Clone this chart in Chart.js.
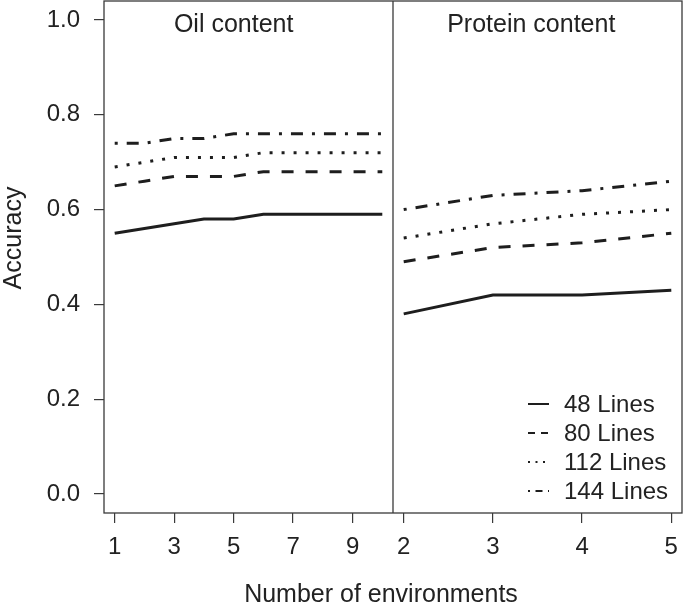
<!DOCTYPE html>
<html>
<head>
<meta charset="utf-8">
<script src="https://cdn.jsdelivr.net/npm/chart.js@4/dist/chart.umd.min.js"></script>
<style>
  html, body { margin: 0; padding: 0; background: #ffffff; }
  #wrap { width: 684px; height: 605px; position: relative; }
</style>
</head>
<body>
<div id="wrap"><canvas id="c" width="684" height="605"></canvas></div>
<script>
// ---- data ----
const oilEnvironments = [1, 2, 3, 4, 5, 6, 7, 8, 9, 10];
const proteinEnvironments = [2, 3, 4, 5];
const seriesLabels = ['48 Lines', '80 Lines', '112 Lines', '144 Lines'];

const oil48  = [0.55, 0.56, 0.57, 0.58, 0.58, 0.59, 0.59, 0.59, 0.59, 0.59];
const oil80  = [0.65, 0.66, 0.67, 0.67, 0.67, 0.68, 0.68, 0.68, 0.68, 0.68];
const oil112 = [0.69, 0.70, 0.71, 0.71, 0.71, 0.72, 0.72, 0.72, 0.72, 0.72];
const oil144 = [0.74, 0.74, 0.75, 0.75, 0.76, 0.76, 0.76, 0.76, 0.76, 0.76];

const protein48  = [0.38, 0.42, 0.42, 0.43];
const protein80  = [0.49, 0.52, 0.53, 0.55];
const protein112 = [0.54, 0.57, 0.59, 0.60];
const protein144 = [0.60, 0.63, 0.64, 0.66];

const oilTicks = [1, 3, 5, 7, 9];
const proteinTicks = [2, 3, 4, 5];
const accuracyTicks = [0.0, 0.2, 0.4, 0.6, 0.8, 1.0];

const panelTitles = ['Oil content', 'Protein content'];
const xAxisTitle = 'Number of environments';
const yAxisTitle = 'Accuracy';

// ---- styles ----
const FONT = '"Liberation Sans", Arial, Helvetica, sans-serif';
const INK = '#1e1e1e';
const TEXT = '#222222';
const BOX = '#3a3a3a';
const plotDashes = [[], [12, 12], [3, 9], [3, 9, 12, 9]];
const legendDashes = [[], [7, 6], [2, 5.5], [2, 5.5, 7, 5.5]];

function pts(xs, ys) { return xs.map((x, i) => ({ x: x, y: ys[i] })); }

const oilSeries = [oil48, oil80, oil112, oil144];
const proteinSeries = [protein48, protein80, protein112, protein144];

const datasets = [];
oilSeries.forEach((s, i) => datasets.push({
  label: seriesLabels[i], data: pts(oilEnvironments, s), xAxisID: 'x1', yAxisID: 'y',
  borderColor: INK, borderWidth: 3, borderDash: plotDashes[i], pointRadius: 0,
  tension: 0, fill: false, borderCapStyle: 'butt', legendDash: legendDashes[i]
}));
proteinSeries.forEach((s, i) => datasets.push({
  label: seriesLabels[i], data: pts(proteinEnvironments, s), xAxisID: 'x2', yAxisID: 'y',
  borderColor: INK, borderWidth: 3, borderDash: plotDashes[i], pointRadius: 0,
  tension: 0, fill: false, borderCapStyle: 'butt', legendDash: legendDashes[i]
}));

const decorPlugin = {
  id: 'decor',
  afterDatasetsDraw(chart) {
    const ctx = chart.ctx;
    const a = chart.chartArea;
    const x1 = chart.scales.x1, x2 = chart.scales.x2;
    ctx.save();
    // frame + panel divider
    ctx.strokeStyle = BOX;
    ctx.lineWidth = 1.3;
    ctx.setLineDash([]);
    ctx.strokeRect(a.left, a.top, a.right - a.left, a.bottom - a.top);
    ctx.beginPath();
    ctx.moveTo(x2.left, a.top);
    ctx.lineTo(x2.left, a.bottom);
    ctx.stroke();

    // panel titles
    ctx.fillStyle = TEXT;
    ctx.font = '25px ' + FONT;
    ctx.textAlign = 'center';
    ctx.textBaseline = 'alphabetic';
    ctx.fillText(panelTitles[0], x1.getPixelForValue(5), a.top + 31);
    ctx.fillText(panelTitles[1], x2.getPixelForValue(3.43), a.top + 31);

    // x axis title
    ctx.fillText(xAxisTitle, (a.left + a.right) / 2 - 12, chart.height - 3);

    // y axis title
    ctx.save();
    ctx.translate(21, 238);
    ctx.rotate(-Math.PI / 2);
    ctx.fillText(yAxisTitle, 0, 0);
    ctx.restore();

    // legend (inside right panel)
    const rows = chart.data.datasets.filter(d => d.xAxisID === 'x2');
    const sx0 = a.right - 154, sx1 = a.right - 133, tx = a.right - 118;
    const y0 = a.bottom - 109, dy = 29;
    ctx.font = '24px ' + FONT;
    ctx.textAlign = 'left';
    ctx.textBaseline = 'middle';
    rows.forEach((d, i) => {
      const y = y0 + i * dy;
      ctx.strokeStyle = INK;
      ctx.lineWidth = 2;
      ctx.setLineDash(d.legendDash);
      ctx.beginPath();
      ctx.moveTo(sx0, y);
      ctx.lineTo(sx1, y);
      ctx.stroke();
      ctx.setLineDash([]);
      ctx.fillText(d.label, tx, y + 1);
    });
    ctx.restore();
  }
};

const tickFont = { family: FONT, size: 24 };
function zeroPad(s) { s.paddingTop = 0; s.paddingBottom = 0; s.paddingLeft = 0; s.paddingRight = 0; }

new Chart(document.getElementById('c'), {
  type: 'line',
  data: { datasets: datasets },
  options: {
    responsive: false,
    animation: false,
    devicePixelRatio: 1,
    layout: { padding: { top: 1, right: 2, left: 0, bottom: 0 } },
    plugins: { legend: { display: false }, tooltip: { enabled: false }, title: { display: false } },
    scales: {
      y: {
        type: 'linear', position: 'left', min: -0.04, max: 1.04,
        afterBuildTicks: s => { s.ticks = accuracyTicks.map(v => ({ value: v })); },
        ticks: { callback: v => Number(v).toFixed(1), font: tickFont, color: TEXT, padding: 14 },
        grid: { drawOnChartArea: false, drawTicks: true, tickLength: 10, color: BOX, lineWidth: 1.2 },
        border: { display: false },
        afterFit: s => { s.width = 104; zeroPad(s); }
      },
      x1: {
        type: 'linear', position: 'bottom', stack: 'panels', stackWeight: 1,
        min: 0.64, max: 10.36,
        afterBuildTicks: s => { s.ticks = oilTicks.map(v => ({ value: v })); },
        ticks: { autoSkip: false, maxRotation: 0, minRotation: 0, font: tickFont, color: TEXT, padding: 10,
                 callback: v => String(v) },
        grid: { drawOnChartArea: false, drawTicks: true, tickLength: 10, color: BOX, lineWidth: 1.2 },
        border: { display: false },
        afterFit: s => { s.height = 92; zeroPad(s); }
      },
      x2: {
        type: 'linear', position: 'bottom', stack: 'panels', stackWeight: 1,
        min: 1.88, max: 5.12,
        afterBuildTicks: s => { s.ticks = proteinTicks.map(v => ({ value: v })); },
        ticks: { autoSkip: false, maxRotation: 0, minRotation: 0, font: tickFont, color: TEXT, padding: 10,
                 callback: v => String(v) },
        grid: { drawOnChartArea: false, drawTicks: true, tickLength: 10, color: BOX, lineWidth: 1.2 },
        border: { display: false },
        afterFit: s => { s.height = 92; zeroPad(s); }
      }
    }
  },
  plugins: [decorPlugin]
});
</script>
</body>
</html>
